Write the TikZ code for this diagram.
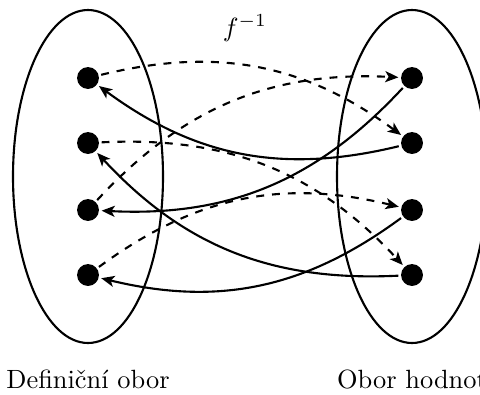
\documentclass[tikz,border=0pt]{standalone}
\usetikzlibrary{arrows.meta}
\begin{document}
\begin{tikzpicture}[x=0.379pt,y=0.379pt,
  dot/.style={circle,fill=black,inner sep=0pt,minimum size=8.3pt,outer sep=1pt},
  fmap/.style={thick,dashed,-{Stealth[length=5pt,width=4.2pt,inset=1.3pt]},bend left=25},
  finv/.style={thick,-{Stealth[length=5pt,width=4.2pt,inset=1.3pt]},bend left=25},
  set/.style={thick}]
\useasboundingbox (0,0) rectangle (480,394);
\draw[set] (88,217.5) ellipse [x radius=75, y radius=166.5];
\draw[set] (412,217.5) ellipse [x radius=75, y radius=166.5];
\node[dot] (L1) at (88,316) {};
\node[dot] (L2) at (88,251) {};
\node[dot] (L3) at (88,184) {};
\node[dot] (L4) at (88,119) {};
\node[dot] (R1) at (412,316) {};
\node[dot] (R2) at (412,251) {};
\node[dot] (R3) at (412,184) {};
\node[dot] (R4) at (412,119) {};
\draw[fmap] (L1) to (R2);
\draw[fmap] (L2) to (R4);
\draw[fmap] (L3) to (R1);
\draw[fmap] (L4) to (R3);
\draw[finv] (R2) to (L1);
\draw[finv] (R4) to (L2);
\draw[finv] (R1) to (L3);
\draw[finv] (R3) to (L4);
\node[anchor=base] (lab) at (245,358) {$f^{-1}$};
\node[anchor=base] (dom) at (88,6) {Definiční obor};
\node[anchor=base] (ran) at (412,6) {Obor hodnot};
\end{tikzpicture}
\end{document}
